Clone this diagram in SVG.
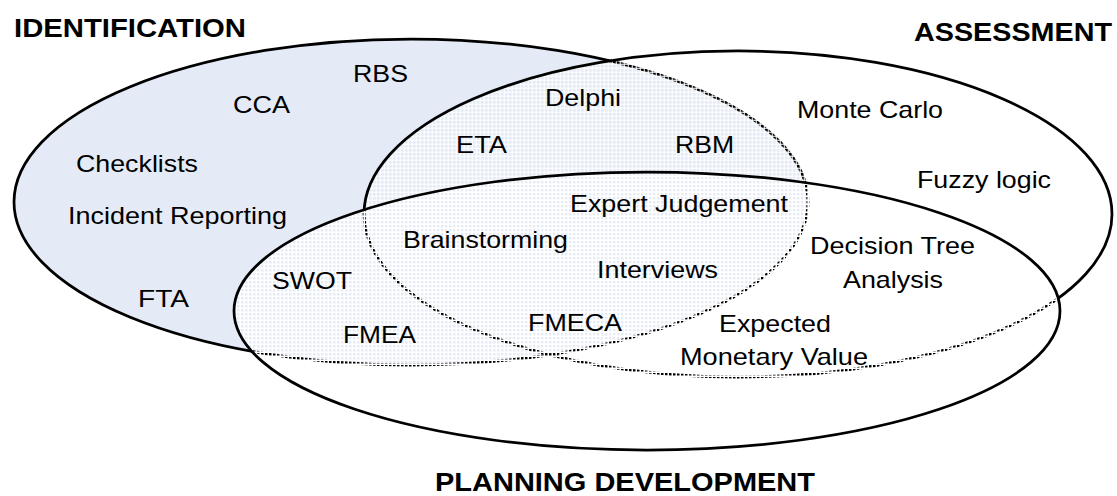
<svg xmlns="http://www.w3.org/2000/svg" width="1117" height="496" viewBox="0 0 1117 496">
<style>
.set{stroke:#000;stroke-width:2.75}
.head{font-family:"Liberation Sans",Arial,sans-serif;font-weight:bold;font-size:26.5px;fill:#000}
.lbl{font-family:"Liberation Sans",Arial,sans-serif;font-size:24px;fill:#000}
</style>
<defs>
<pattern id="veilA" width="4" height="4" patternUnits="userSpaceOnUse">
<path d="M0 0H4V4H0Z M0.75 0.75V3.75H3.75V0.75Z" fill="#fff" fill-rule="evenodd"/>
</pattern>
<pattern id="veilP" width="4" height="4" patternUnits="userSpaceOnUse">
<path d="M0 0H4V4H0Z M1 1V3.5H3.5V1Z" fill="#fff" fill-rule="evenodd"/>
</pattern>
</defs>
<rect width="1117" height="496" fill="#fff"/>
<g id="identification">
<ellipse class="set" cx="411" cy="202" rx="397" ry="163" fill="#E5EBF6"/>
<text class="head" x="14" y="37" textLength="232" lengthAdjust="spacingAndGlyphs">IDENTIFICATION</text>
</g>
<g id="assessment">
<ellipse class="set" cx="738" cy="214" rx="374" ry="163" fill="url(#veilA)"/>
<text class="head" x="914" y="41" textLength="198" lengthAdjust="spacingAndGlyphs">ASSESSMENT</text>
</g>
<g id="planning">
<ellipse class="set" cx="647" cy="311" rx="413" ry="139" fill="url(#veilP)"/>
<text class="head" x="435" y="491" textLength="380" lengthAdjust="spacingAndGlyphs">PLANNING DEVELOPMENT</text>
</g>
<g id="techniques">
<text class="lbl" x="353" y="82" textLength="55" lengthAdjust="spacingAndGlyphs">RBS</text>
<text class="lbl" x="233" y="113" textLength="57" lengthAdjust="spacingAndGlyphs">CCA</text>
<text class="lbl" x="76" y="172" textLength="122" lengthAdjust="spacingAndGlyphs">Checklists</text>
<text class="lbl" x="68" y="224" textLength="219" lengthAdjust="spacingAndGlyphs">Incident Reporting</text>
<text class="lbl" x="138" y="307" textLength="51" lengthAdjust="spacingAndGlyphs">FTA</text>
<text class="lbl" x="545" y="106" textLength="76" lengthAdjust="spacingAndGlyphs">Delphi</text>
<text class="lbl" x="456" y="153" textLength="51" lengthAdjust="spacingAndGlyphs">ETA</text>
<text class="lbl" x="675" y="153" textLength="59" lengthAdjust="spacingAndGlyphs">RBM</text>
<text class="lbl" x="570" y="212" textLength="218" lengthAdjust="spacingAndGlyphs">Expert Judgement</text>
<text class="lbl" x="403" y="248" textLength="165" lengthAdjust="spacingAndGlyphs">Brainstorming</text>
<text class="lbl" x="597" y="278" textLength="121" lengthAdjust="spacingAndGlyphs">Interviews</text>
<text class="lbl" x="272" y="289" textLength="80" lengthAdjust="spacingAndGlyphs">SWOT</text>
<text class="lbl" x="343" y="343" textLength="73" lengthAdjust="spacingAndGlyphs">FMEA</text>
<text class="lbl" x="528" y="331" textLength="94" lengthAdjust="spacingAndGlyphs">FMECA</text>
<text class="lbl" x="797" y="118" textLength="146" lengthAdjust="spacingAndGlyphs">Monte Carlo</text>
<text class="lbl" x="917" y="188" textLength="134" lengthAdjust="spacingAndGlyphs">Fuzzy logic</text>
<text class="lbl" x="810" y="254" textLength="165" lengthAdjust="spacingAndGlyphs">Decision Tree</text>
<text class="lbl" x="843" y="288" textLength="100" lengthAdjust="spacingAndGlyphs">Analysis</text>
<text class="lbl" x="719" y="332" textLength="112" lengthAdjust="spacingAndGlyphs">Expected</text>
<text class="lbl" x="680" y="365" textLength="188" lengthAdjust="spacingAndGlyphs">Monetary Value</text>
</g>
</svg>
